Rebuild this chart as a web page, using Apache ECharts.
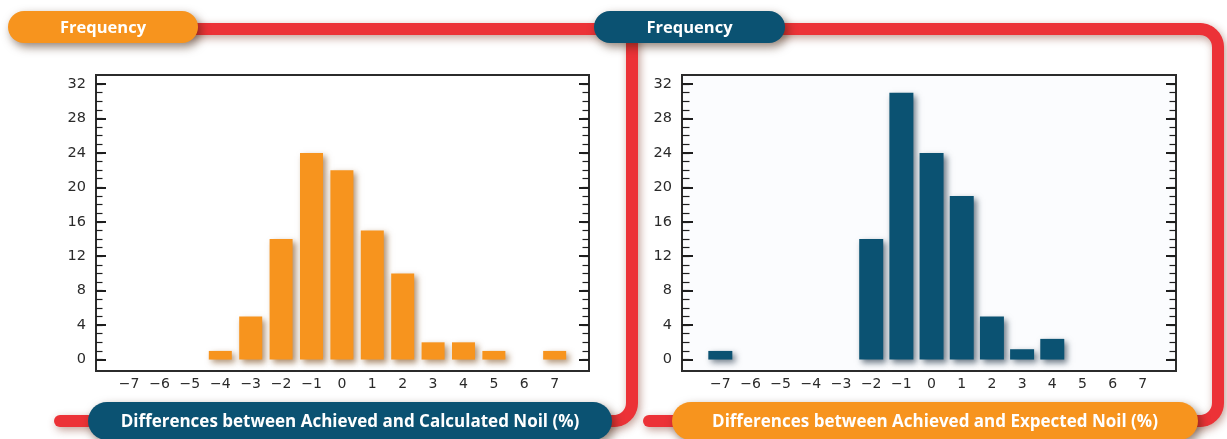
<!DOCTYPE html>
<html>
<head>
<meta charset="utf-8">
<script src="https://cdn.jsdelivr.net/npm/echarts@6/dist/echarts.min.js"></script>
<style>
html,body{margin:0;padding:0;background:#ffffff;}
#chart{width:1227px;height:439px;}
</style>
</head>
<body>
<div id="chart"></div>
<script>
// ---- data ----
var xCategories = [-7, -6, -5, -4, -3, -2, -1, 0, 1, 2, 3, 4, 5, 6, 7];
var calculatedCounts = [0, 0, 0, 1, 5, 14, 24, 22, 15, 10, 2, 2, 1, 0, 1];
var expectedCounts = [1, 0, 0, 0, 0, 14, 31, 24, 19, 5, 1.2, 2.4, 0, 0, 0];
var yTicksMajor = [0, 4, 8, 12, 16, 20, 24, 28, 32];
var yTicksMinor = [];
for (var i = 0; i <= 32; i++) yTicksMinor.push(i);
var headerLabel = 'Frequency';
var leftTitle = 'Differences between Achieved and Calculated Noil (%)';
var rightTitle = 'Differences between Achieved and Expected Noil (%)';

var ORANGE = '#F7941E';
var BLUE = '#0B5272';
var RED = '#EC3237';
var INK = '#2a2a2a';
var FONT = '"DejaVu Sans", sans-serif';

function pairs(values) {
  var out = [];
  for (var i = 0; i < xCategories.length; i++) {
    if (values[i] > 0) out.push([xCategories[i], values[i]]);
  }
  return out;
}
function fmtX(v) {
  return v < 0 ? '\u2212' + Math.abs(v) : String(v);
}

var grids = [
  {left: 96, top: 75, width: 493, height: 296, show: true, borderColor: '#2b2b2b', borderWidth: 2, backgroundColor: '#ffffff', containLabel: false},
  {left: 682, top: 75, width: 494, height: 296, show: true, borderColor: '#2b2b2b', borderWidth: 2, backgroundColor: '#fbfcfe', containLabel: false}
];
var xRanges = [[-8.09, 8.13], [-8.27, 8.1]];

var xAxes = [], yAxes = [];
function yAxisDef(g, pos, len, vals, width, labels) {
  return {
    type: 'value', gridIndex: g, position: pos, min: -1.33, max: 33.05,
    axisLine: {show: false, onZero: false}, splitLine: {show: false},
    axisTick: {show: true, inside: true, length: len, customValues: vals, lineStyle: {color: '#1e1e1e', width: width}},
    axisLabel: labels ? {customValues: yTicksMajor, color: INK, fontFamily: FONT, fontSize: 14.5, margin: 10} : {show: false}
  };
}
for (var g = 0; g < 2; g++) {
  xAxes.push({
    type: 'value', gridIndex: g, min: xRanges[g][0], max: xRanges[g][1],
    axisLine: {show: false, onZero: false}, axisTick: {show: false}, splitLine: {show: false},
    axisLabel: {customValues: xCategories, formatter: fmtX, color: INK, fontFamily: FONT, fontSize: 14, margin: 6}
  });
  var majLen = g === 0 ? 10 : 11, minLen = g === 0 ? 6.5 : 7.5;
  yAxes.push(yAxisDef(g, 'left', majLen, yTicksMajor, 2, true));
  yAxes.push(yAxisDef(g, 'left', minLen, yTicksMinor, 1.2, false));
  yAxes.push(yAxisDef(g, 'right', 10, yTicksMajor, 2, false));
  yAxes.push(yAxisDef(g, 'right', 6.5, yTicksMinor, 1.2, false));
}

var series = [
  {
    type: 'bar', xAxisIndex: 0, yAxisIndex: 0, barWidth: 23, data: pairs(calculatedCounts),
    itemStyle: {color: ORANGE, shadowColor: 'rgba(120,70,20,0.6)', shadowBlur: 6, shadowOffsetX: 3, shadowOffsetY: 3}
  },
  {
    type: 'bar', xAxisIndex: 1, yAxisIndex: 4, barWidth: 24, data: pairs(expectedCounts),
    itemStyle: {color: BLUE, shadowColor: 'rgba(20,40,60,0.6)', shadowBlur: 6, shadowOffsetX: 3, shadowOffsetY: 3}
  }
];

// decorative connector lines (rounded corners sampled as points)
function arcPts(cx, cy, r, a0, a1) {
  var pts = [], n = 10;
  for (var k = 0; k <= n; k++) {
    var a = (a0 + (a1 - a0) * k / n) * Math.PI / 180;
    pts.push([cx + r * Math.cos(a), cy + r * Math.sin(a)]);
  }
  return pts;
}
function redLine(points) {
  return {
    type: 'polyline', z: 1, shape: {points: points},
    style: {fill: null, stroke: RED, lineWidth: 12, lineCap: 'round', lineJoin: 'round',
      shadowBlur: 8, shadowColor: 'rgba(120,40,20,0.45)', shadowOffsetX: 2, shadowOffsetY: 3}
  };
}
function pill(x, y, w, h, color, text, fontSize) {
  return [
    {type: 'rect', z: 5, shape: {x: x, y: y, width: w, height: h, r: h / 2},
      style: {fill: color, shadowBlur: 10, shadowColor: 'rgba(60,30,10,0.55)', shadowOffsetX: 3, shadowOffsetY: 4}},
    {type: 'text', z: 6, style: {text: text, x: x + w / 2, y: y + h / 2 + 1, fill: '#ffffff',
      font: 'bold ' + fontSize + 'px "Open Sans", sans-serif', align: 'center', verticalAlign: 'middle'}}
  ];
}

var midPts = [[632, 36]].concat(arcPts(614, 403, 18, 0, 90), [[600, 421]]);
var rightPts = [[780, 29]].concat(arcPts(1200, 47, 18, -90, 0), arcPts(1200, 403, 18, 0, 90), [[1188, 421]]);

var graphics = [
  redLine([[190, 29], [600, 29]]),
  redLine(midPts),
  redLine(rightPts),
  redLine([[60, 421], [100, 421]]),
  redLine([[649, 421], [690, 421]])
].concat(
  pill(8, 11, 190, 32, ORANGE, headerLabel, 16.5),
  pill(594, 11, 191, 32, BLUE, headerLabel, 16.5),
  pill(88, 402, 524, 38, BLUE, leftTitle, 17),
  pill(672, 402, 526, 38, ORANGE, rightTitle, 17)
);

var chart = echarts.init(document.getElementById('chart'), null, {renderer: 'canvas'});
chart.setOption({
  animation: false,
  backgroundColor: '#ffffff',
  grid: grids,
  xAxis: xAxes,
  yAxis: yAxes,
  series: series,
  graphic: {elements: graphics}
});
</script>
</body>
</html>
